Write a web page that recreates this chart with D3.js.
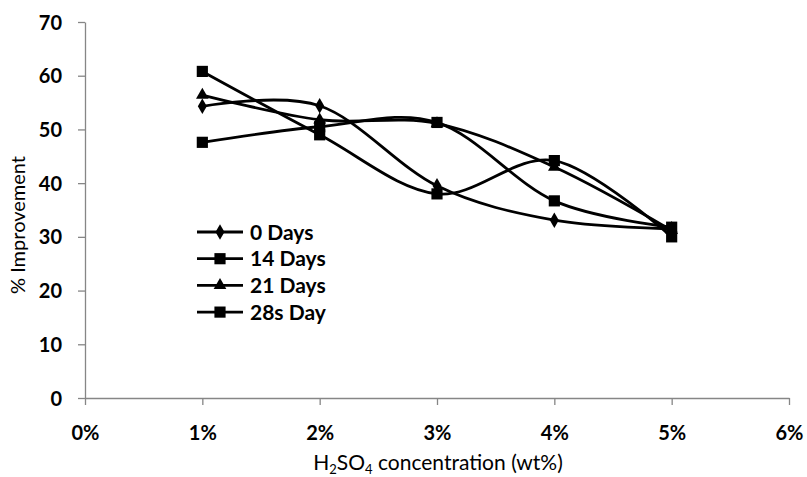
<!DOCTYPE html>
<html>
<head>
<meta charset="utf-8">
<script src="https://cdn.jsdelivr.net/npm/d3@7"></script>
<style>
  html, body { margin: 0; padding: 0; background: #fff; }
  svg { display: block; }
  text { font-family: Lato, "Open Sans", sans-serif; fill: #000; }
</style>
</head>
<body>
<svg id="chart" width="807" height="477"></svg>
<script>
// ---- data ----
const concentrations = [1, 2, 3, 4, 5]; // wt%
const seriesNames = ["0 Days", "14 Days", "21 Days", "28s Day"];
const days0  = [54.3, 54.4, 39.5, 33.1, 31.5];
const days14 = [47.6, 50.5, 51.3, 36.7, 31.8];
const days21 = [56.4, 51.8, 51.1, 43.0, 31.2];
const days28 = [60.8, 49.0, 38.0, 44.2, 30.0];
const markerShapes = ["diamond", "square", "triangle", "square"];
const xTicks = [0, 1, 2, 3, 4, 5, 6];
const yTicks = [0, 10, 20, 30, 40, 50, 60, 70];

const seriesValues = [days0, days14, days21, days28];

const svg = d3.select("#chart");
const x = d3.scaleLinear().domain([0, 6]).range([85, 789]);
const y = d3.scaleLinear().domain([0, 70]).range([398, 22]);
const axisColor = "#868686";

// axes
const xAxis = svg.append("g").attr("transform", `translate(0,${y(0)})`)
  .call(d3.axisBottom(x).tickValues(xTicks).tickSize(7).tickSizeOuter(0).tickFormat(d => d + "%"));
const yAxis = svg.append("g").attr("transform", `translate(${x(0)},0)`)
  .call(d3.axisLeft(y).tickValues(yTicks).tickSize(7).tickSizeOuter(0));
[xAxis, yAxis].forEach(g => {
  g.select(".domain").attr("stroke", axisColor).attr("stroke-width", 1.3);
  g.selectAll(".tick line").attr("stroke", axisColor).attr("stroke-width", 1.3);
  g.selectAll(".tick text").attr("font-family", "Lato, sans-serif")
    .attr("font-size", 20).attr("font-weight", "bold").attr("fill", "#000");
});
xAxis.selectAll(".tick text").attr("y", 35).attr("dy", "0.35em");
yAxis.selectAll(".tick text").attr("x", -23).attr("dy", "0.35em");

// titles
svg.append("text")
  .attr("transform", `translate(25,225) rotate(-90)`)
  .attr("text-anchor", "middle").attr("font-size", 20)
  .text("% Improvement");

const xt = svg.append("text").attr("x", 438).attr("y", 470)
  .attr("text-anchor", "middle").attr("font-size", 21);
xt.append("tspan").text("H");
xt.append("tspan").attr("font-size", 13).attr("dy", 4).text("2");
xt.append("tspan").attr("dy", -4).text("SO");
xt.append("tspan").attr("font-size", 13).attr("dy", 4).text("4");
xt.append("tspan").attr("dy", -4).text(" concentration (wt%)");

// markers
function drawMarker(g, shape, cx, cy) {
  let s;
  if (shape === "diamond") s = d3.symbol().type(d3.symbolDiamond).size(70);
  else if (shape === "triangle") s = d3.symbol().type(d3.symbolTriangle).size(70);
  else s = d3.symbol().type(d3.symbolSquare).size(125);
  g.append("path").attr("d", s()).attr("transform", `translate(${cx},${cy})`)
    .attr("fill", "#000").attr("stroke", "none");
}

const line = d3.line()
  .x((d, i) => x(concentrations[i]))
  .y(d => y(d))
  .curve(d3.curveCardinal.tension(0));

const plot = svg.append("g");
seriesValues.forEach((vals, si) => {
  plot.append("path").attr("d", line(vals))
    .attr("fill", "none").attr("stroke", "#000").attr("stroke-width", 2.8);
  vals.forEach((v, i) => drawMarker(plot, markerShapes[si], x(concentrations[i]), y(v)));
});

// legend
const legend = svg.append("g");
seriesNames.forEach((name, i) => {
  const ly = 232 + i * 26.7;
  legend.append("line").attr("x1", 197).attr("x2", 243).attr("y1", ly).attr("y2", ly)
    .attr("stroke", "#000").attr("stroke-width", 2.8);
  drawMarker(legend, markerShapes[i], 220, ly);
  legend.append("text").attr("x", 250).attr("y", ly).attr("dy", "0.36em")
    .attr("font-size", 21).attr("font-weight", "bold").text(name);
});
</script>
</body>
</html>
